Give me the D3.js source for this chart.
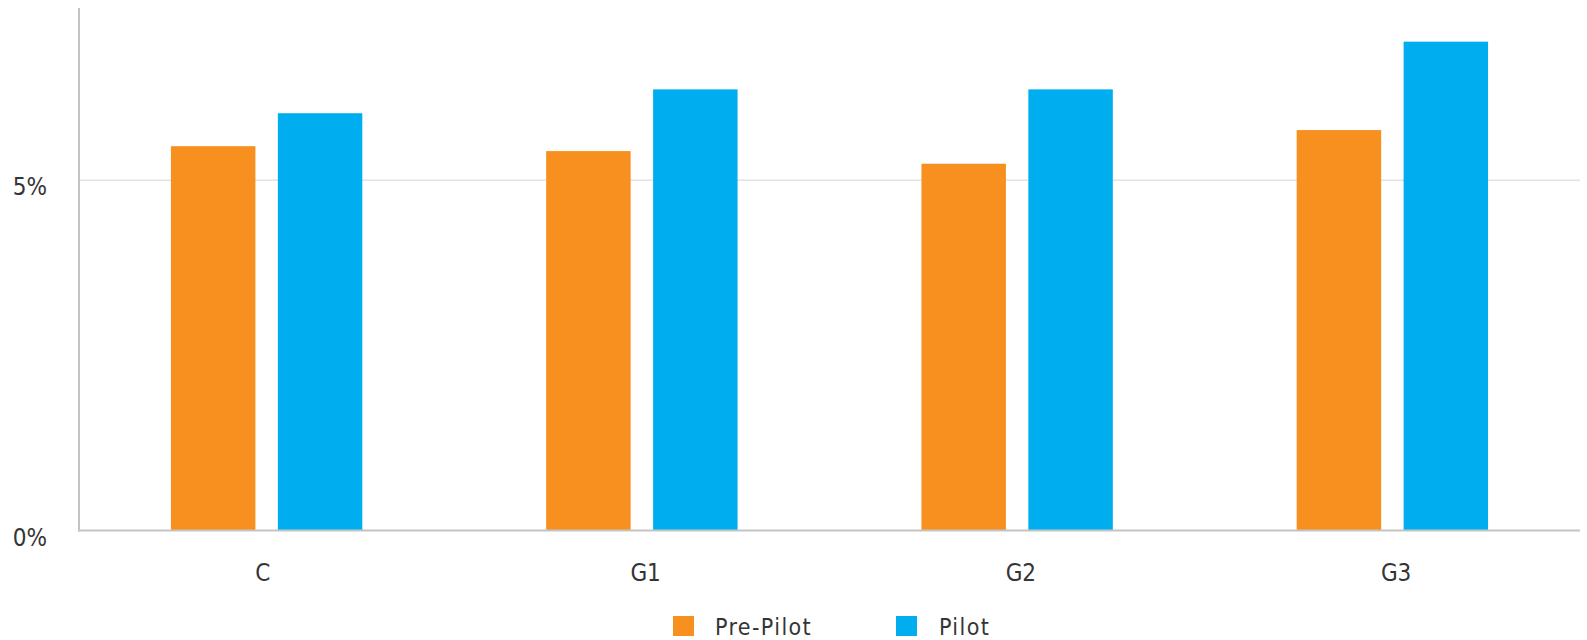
<!DOCTYPE html>
<html>
<head>
<meta charset="utf-8">
<script src="https://cdn.jsdelivr.net/npm/d3@7"></script>
<style>
  html, body { margin: 0; padding: 0; background: #fff; }
  svg { display: block; }
  text { font-family: "DejaVu Sans Condensed", "DejaVu Sans", sans-serif; fill: #353535; }
</style>
</head>
<body>
<svg id="chart" width="1587" height="640"></svg>
<script>
// Share by group, before and during the pilot (percent)
const categories = ["C", "G1", "G2", "G3"];
const seriesNames = ["Pre-Pilot", "Pilot"];
const prePilot = [5.48, 5.41, 5.23, 5.71];
const pilot = [5.95, 6.29, 6.29, 6.97];
const yTicks = [0, 5];
const colors = ["#F7901E", "#00AEEF"];

const svg = d3.select("#chart");
const plotLeft = 79, plotRight = 1580, plotTop = 8, plotBottom = 530.6;

const x0 = d3.scaleBand()
  .domain(categories)
  .range([plotLeft, plotRight])
  .paddingInner(0.49)
  .paddingOuter(0.245);

const x1 = d3.scaleBand()
  .domain(seriesNames)
  .range([0, x0.bandwidth()])
  .paddingInner(0.21);

const y = d3.scaleLinear().domain([0, 7.45]).range([plotBottom, plotTop]);

// Gridline at 5%
svg.append("g")
  .attr("transform", `translate(${plotLeft},0)`)
  .call(d3.axisLeft(y).tickValues(yTicks.filter(t => t > 0)).tickSize(-(plotRight - plotLeft)).tickFormat(""))
  .call(g => g.select(".domain").remove())
  .call(g => g.selectAll(".tick line").attr("stroke", "#e2e2e2").attr("stroke-width", 1.5));

// Bars
const rows = categories.map((c, i) => ({ cat: c, values: [prePilot[i], pilot[i]] }));
const groups = svg.append("g").selectAll("g")
  .data(rows)
  .join("g")
  .attr("transform", d => `translate(${x0(d.cat)},0)`);

groups.selectAll("rect")
  .data(d => d.values.map((v, k) => ({ key: seriesNames[k], value: v, k })))
  .join("rect")
  .attr("x", d => x1(d.key))
  .attr("width", x1.bandwidth())
  .attr("y", d => y(d.value))
  .attr("height", d => y(0) - y(d.value))
  .attr("fill", d => colors[d.k]);

// Y axis
svg.append("g")
  .attr("transform", `translate(${plotLeft},0)`)
  .call(d3.axisLeft(y).tickValues(yTicks).tickSize(0).tickFormat(d => d + "%"))
  .call(g => g.select(".domain").remove())
  .call(g => g.selectAll(".tick text")
    .attr("x", -32)
    .attr("dy", "0.62em")
    .attr("text-anchor", "end")
    .style("font-size", "24px")
    .attr("font-family", null));

svg.append("line")
  .attr("x1", plotLeft).attr("x2", plotLeft)
  .attr("y1", plotTop).attr("y2", plotBottom + 1)
  .attr("stroke", "#c4c4c4").attr("stroke-width", 2);

// X axis: labels start a little left of each group centre
svg.append("g")
  .attr("transform", `translate(0,${plotBottom})`)
  .call(d3.axisBottom(x0).tickSize(0))
  .call(g => g.select(".domain").remove())
  .call(g => g.selectAll(".tick text")
    .attr("x", -11.5)
    .attr("y", 33)
    .attr("dy", "0.72em")
    .attr("text-anchor", "start")
    .style("font-size", "24px")
    .attr("font-family", null));

svg.append("line")
  .attr("x1", plotLeft - 1).attr("x2", plotRight)
  .attr("y1", plotBottom).attr("y2", plotBottom)
  .attr("stroke", "#c4c4c4").attr("stroke-width", 2);

svg.selectAll(".tick text").style("fill", "#353535");

// Legend
const legendX = [673, 896];
const legend = svg.append("g").selectAll("g")
  .data(seriesNames)
  .join("g")
  .attr("transform", (d, i) => `translate(${legendX[i]},616)`);
legend.append("rect").attr("width", 21).attr("height", 20).attr("fill", (d, i) => colors[i]);
legend.append("text")
  .attr("x", (d, i) => i === 0 ? 42 : 43)
  .attr("y", 18.5)
  .style("font-size", "23px")
  .attr("letter-spacing", "1.4px")
  .text(d => d);
</script>
</body>
</html>
